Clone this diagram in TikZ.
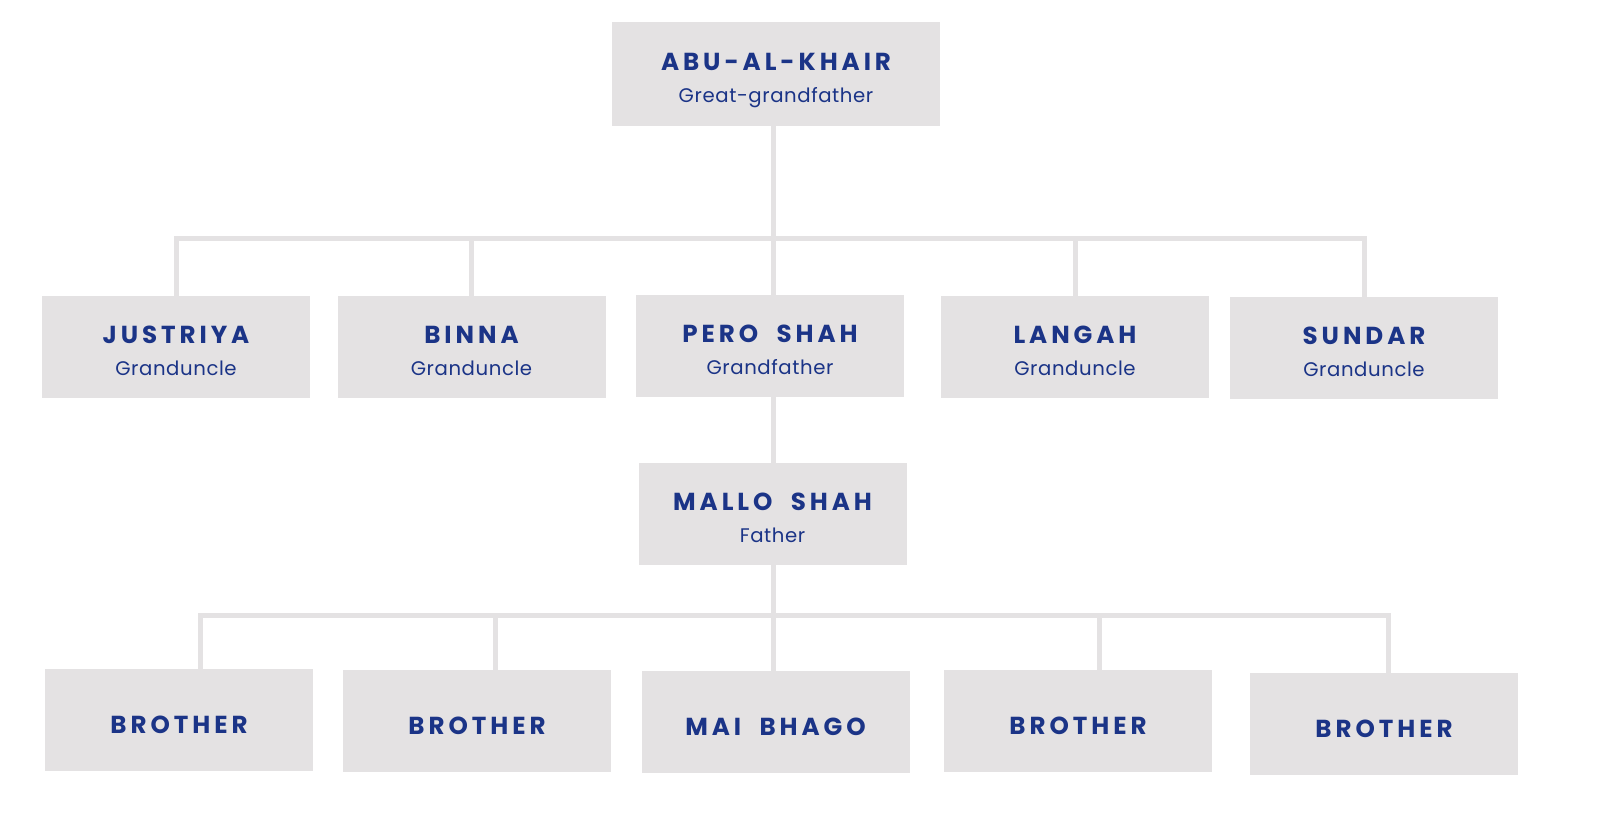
\documentclass[tikz,border=0pt]{standalone}
\usepackage{fontspec}
\setmainfont{Poppins}
\newfontfamily\namefont{Poppins}[LetterSpace=16, WordSpace=2]
\newfontfamily\rolefont{Poppins}[LetterSpace=3]
\usetikzlibrary{calc}
\definecolor{kinblue}{RGB}{27,52,135}
\definecolor{kingray}{RGB}{228,226,227}
\newcommand{\kinname}[1]{{\namefont\bfseries\fontsize{14pt}{16pt}\selectfont\rule{0pt}{17.4pt}#1}}
\newcommand{\kinrole}[1]{{\rolefont\fontsize{11.2pt}{14pt}\selectfont\rule[-3pt]{0pt}{3pt}#1}}
\newcommand{\kinlow}{\rule[-2.4pt]{0pt}{2.4pt}}

\begin{document}
\begin{tikzpicture}[x=0.2mm, y=-0.2mm,
	person/.style={rectangle, fill=kingray, text=kinblue, align=center, inner sep=0pt, minimum width=53.6mm, minimum height=20.4mm},
	link/.style={draw=kingray, line width=1mm}]
	\fill[white] (0,0) rectangle (1600,828);
	\useasboundingbox (0,0) rectangle (1600,828);
	% People:
	\node[person, minimum width=65.6mm, minimum height=20.8mm] (abu) at (776, 74){\kinname{ABU-AL-KHAIR}\\[6pt]\kinrole{Great-grandfather}};
	\node[person] (justriya) at (176, 347){\kinname{JUSTRIYA}\\[6pt]\kinrole{Granduncle}};
	\node[person] (binna) at (471.5, 347){\kinname{BINNA}\\[6pt]\kinrole{Granduncle}};
	\node[person] (pero) at (770, 346){\kinname{PERO SHAH}\\[6pt]\kinrole{Grandfather}};
	\node[person] (langah) at (1075, 347){\kinname{LANGAH}\\[6pt]\kinrole{Granduncle}};
	\node[person] (sundar) at (1364, 348){\kinname{SUNDAR}\\[6pt]\kinrole{Granduncle}};
	\node[person] (mallo) at (772.5, 514){\kinname{MALLO SHAH}\\[6pt]\kinrole{Father}};
	\node[person] (bro1) at (179, 720){\kinname{BROTHER}\kinlow};
	\node[person] (bro2) at (477, 721){\kinname{BROTHER}\kinlow};
	\node[person] (bhago) at (775.5, 722){\kinname{MAI BHAGO}\kinlow};
	\node[person] (bro3) at (1078, 721){\kinname{BROTHER}\kinlow};
	\node[person] (bro4) at (1384, 724){\kinname{BROTHER}\kinlow};
	% Bars and drops:
	\coordinate (bar1) at (773.5, 238);
	\coordinate (bar2) at (773.5, 615);
	\coordinate (b1) at (200, 615);
	\coordinate (b2) at (495, 615);
	\coordinate (b3) at (1099, 615);
	\coordinate (b4) at (1388, 615);
	\draw[link] (abu.south -| bar1) -- (bar1);
	\draw[link] (justriya.north) -- (justriya.north |- bar1) -- (sundar.north |- bar1) -- (sundar.north);
	\foreach \kid in {binna, langah}
		\draw[link] (\kid.north) -- (\kid.north |- bar1);
	\draw[link] (bar1) -- (pero.north -| bar1);
	\draw[link] (pero.south -| bar1) -- (mallo.north -| bar1);
	\draw[link] (mallo.south -| bar2) -- (bar2);
	\draw[link] (b1 |- bro1.north) -- (b1) -- (b4) -- (b4 |- bro4.north);
	\draw[link] (b2) -- (b2 |- bro2.north);
	\draw[link] (b3) -- (b3 |- bro3.north);
	\draw[link] (bar2) -- (bar2 |- bhago.north);
\end{tikzpicture}
\end{document}
